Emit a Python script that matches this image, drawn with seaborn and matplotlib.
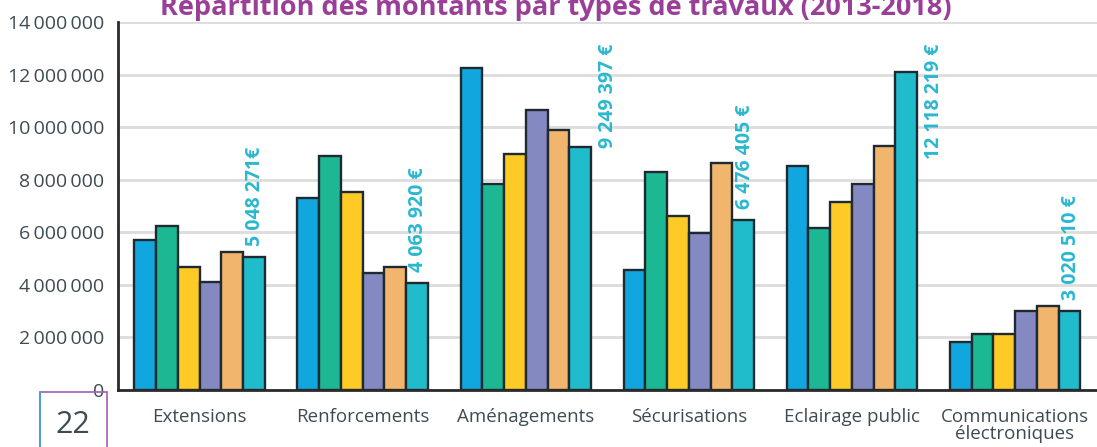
import numpy as np
import pandas as pd
import seaborn as sns
import matplotlib.pyplot as plt
from matplotlib.ticker import FuncFormatter, FixedLocator
from matplotlib.patches import Rectangle
from matplotlib.lines import Line2D

# data
categories = ["Extensions", "Renforcements", "Aménagements", "Sécurisations",
              "Eclairage public", "Communications\nélectroniques"]
years = ["2013", "2014", "2015", "2016", "2017", "2018"]
v2013 = [5.70e6, 7.32e6, 12.25e6, 4.56e6, 8.53e6, 1.84e6]
v2014 = [6.25e6, 8.91e6, 7.83e6, 8.30e6, 6.15e6, 2.15e6]
v2015 = [4.67e6, 7.52e6, 9.00e6, 6.62e6, 7.14e6, 2.13e6]
v2016 = [4.12e6, 4.47e6, 10.67e6, 5.98e6, 7.83e6, 3.00e6]
v2017 = [5.26e6, 4.69e6, 9.89e6, 8.62e6, 9.29e6, 3.20e6]
v2018 = [5048271, 4063920, 9249397, 6476405, 12118219, 3020510]
labels_2018 = ["5 048 271€", "4 063 920 €", "9 249 397 €",
               "6 476 405 €", "12 118 219 €", "3 020 510 €"]

colors = ["#12a6de", "#1cb894", "#fdca26", "#8589c2", "#f1b56e", "#21bccc"]
TEXT = "#3e4b53"
TEAL = "#2ab8cf"
PURPLE = "#9a3f98"

series = [v2013, v2014, v2015, v2016, v2017, v2018]
df = pd.DataFrame({
    "Type": categories * len(years),
    "Année": np.repeat(years, len(categories)),
    "Montant": np.concatenate(series),
})

sns.set_style("white")
plt.rcParams["font.family"] = ["Open Sans", "DejaVu Sans"]

fig = plt.figure(figsize=(10.97, 4.47), dpi=100)
ax = fig.add_axes([0.1076, 0.1275, 0.892, 0.823])

sns.barplot(data=df, x="Type", y="Montant", hue="Année", palette=colors,
            width=0.8, saturation=1, edgecolor="#1f2a30", linewidth=1.7,
            legend=False, ax=ax)

# value labels for the last year
for bar, val, lab in zip(ax.containers[-1], v2018, labels_2018):
    if val > 9e6:
        ax.annotate(lab, (bar.get_x() + bar.get_width(), 13.2e6),
                    xytext=(5, 0), textcoords="offset points", rotation=90,
                    ha="left", va="top", color=TEAL, fontsize=14,
                    fontweight="bold", annotation_clip=False)
    else:
        ax.annotate(lab, (bar.get_x() + bar.get_width() / 2, val),
                    xytext=(1, 8), textcoords="offset points", rotation=90,
                    ha="center", va="bottom", color=TEAL, fontsize=14,
                    fontweight="bold")

ax.set_ylim(0, 14e6)
ax.set_xlim(-0.5, 5.5)
ax.yaxis.set_major_locator(FixedLocator(np.arange(0, 14e6 + 1, 2e6)))
ax.yaxis.set_major_formatter(FuncFormatter(
    lambda x, pos: f"{int(x):,}".replace(",", "\u2009")))
ax.yaxis.grid(True, color="#dcdcdc", lw=2)
ax.set_axisbelow(True)

ax.xaxis.set_major_locator(FixedLocator(np.arange(-0.5, 6, 1)))
ax.xaxis.set_minor_locator(FixedLocator(np.arange(0, 6, 1)))
ax.set_xticklabels([], minor=False)
ax.set_xticklabels(categories, minor=True, fontsize=13.5, color=TEXT,
                   linespacing=0.95)
ax.tick_params(axis="x", which="major", length=9, width=2, color="#2a2a2a")
ax.tick_params(axis="x", which="minor", length=0, pad=13)
ax.tick_params(axis="y", length=6, width=2.5, color="#2a2a2a",
               labelsize=14, labelcolor=TEXT, pad=4)
ax.set_xlabel("")
ax.set_ylabel("")

sns.despine(ax=ax)
for side in ["left", "bottom"]:
    ax.spines[side].set_color("#2a2a2a")
    ax.spines[side].set_linewidth(2)

fig.text(0.507, 0.966, "Répartition des montants par types de travaux (2013-2018)",
         ha="center", va="baseline", fontsize=19.5, fontweight="bold",
         color=PURPLE)

# page number box
fig.patches.append(Rectangle((40 / 1097, -0.01), 67 / 1097, 55 / 447 + 0.01,
                             transform=fig.transFigure, fill=False,
                             edgecolor="#a15db3", lw=1.2))
fig.lines.append(Line2D([40 / 1097, 40 / 1097], [0, 55 / 447],
                        transform=fig.transFigure, color="#3aa3e0", lw=1.2))
fig.text(73 / 1097, 0.05, "22", ha="center", va="center", fontsize=22,
         color=TEXT)

plt.savefig("out.png", dpi=100)
